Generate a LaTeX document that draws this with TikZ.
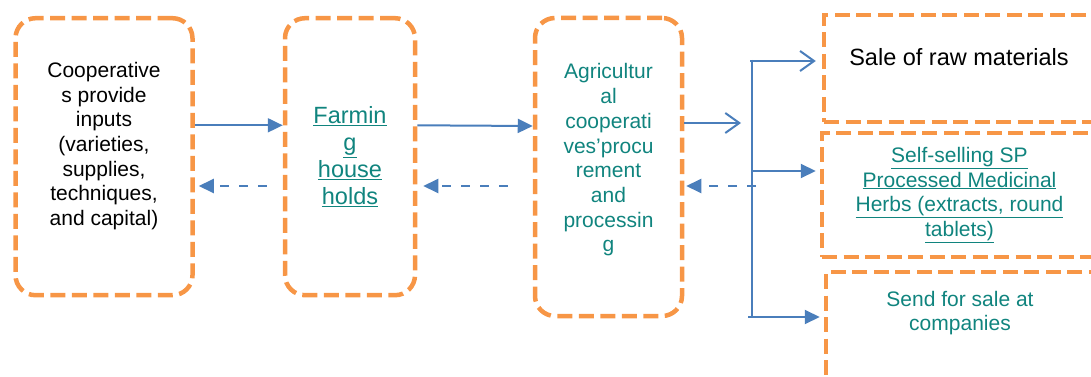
\documentclass[tikz,border=0pt]{standalone}
\usepackage{fontspec}
\setmainfont{Liberation Sans}
\usetikzlibrary{arrows.meta}
\definecolor{boxorange}{HTML}{F79646}
\definecolor{lineblue}{HTML}{4A7EBB}
\definecolor{linkteal}{RGB}{16,132,126}
\tikzset{
  flowbox/.style={draw=boxorange, line width=4.5pt, dash pattern=on 15pt off 6.5pt, rounded corners=20pt, align=center, inner sep=0pt},
  salebox/.style={draw=boxorange, line width=4.5pt, dash pattern=on 15pt off 6.5pt, align=center, inner sep=0pt},
  fwd/.style={draw=lineblue, line width=2pt, -{Triangle[length=15pt,width=14pt]}},
  fwdopen/.style={draw=lineblue, line width=2pt, -{Straight Barb[length=14pt,width=20pt,line width=2pt]}},
  back/.style={draw=lineblue, line width=2pt, dash pattern=on 9pt off 10pt, -{Triangle[length=15pt,width=14pt]}},
  bus/.style={draw=lineblue, line width=2pt},
  txtA/.style={font=\fontsize{21}{24.7}\selectfont, align=center},
  txtB/.style={font=\fontsize{23.5}{26.8}\selectfont, align=center},
}
\begin{document}
\begin{tikzpicture}[x=1pt,y=-1pt]
\useasboundingbox (0,0) rectangle (1091,377);
\begin{scope}
\clip (0,0) rectangle (1091,377);
% main boxes
\node[flowbox, minimum width=177pt, minimum height=277pt] (b1) at (104,156.7) {};
\node[txtA, text=black] (t1) at (104,146) {Cooperative\\s provide\\inputs\\(varieties,\\supplies,\\techniques,\\and capital)};
\node[flowbox, minimum width=130pt, minimum height=277pt, txtB, text=linkteal] (b2) at (350,156.7)
  {\underline{Farmin}\\\underline{g}\\\underline{house}\\\underline{holds}};
\node[flowbox, minimum width=147pt, minimum height=298pt] (b3) at (608.5,167) {};
\node[txtA, text=linkteal] (t3) at (608.5,160) {Agricultur\\al\\cooperati\\ves’procu\\rement\\and\\processin\\g};
% sale boxes
\node[salebox, minimum width=271pt, minimum height=107pt] (b4) at (959.5,68.5) {};
\node[txtB, text=black] (t4) at (959,57) {Sale of raw materials};
\node[salebox, minimum width=275pt, minimum height=124pt, txtA, text=linkteal] (b5) at (959.5,195)
  {\underline{Self-selling SP}\\\underline{Processed Medicinal}\\\underline{Herbs (extracts, round}\\\underline{tablets)}};
\node[salebox, minimum width=268pt, minimum height=150pt] (b6) at (960,347) {};
\node[txtA, text=linkteal] (t6) at (960,313) {Send for sale at\\companies};
\end{scope}
% bus coordinates
\coordinate (a3tip) at (741,123);
\coordinate (bt) at (752,61);
\coordinate (bm) at (752,171);
\coordinate (bb) at (752,317);
\coordinate (bd) at (756,186);
% connectors
\draw[fwd] ([yshift=31.4pt]b1.east) -- ([yshift=31.4pt]b2.west);
\draw[back] ([xshift=-16pt,yshift=-29.3pt]b2.west) -- ([xshift=4pt,yshift=-29.3pt]b1.east);
\draw[fwd] ([yshift=31.4pt]b2.east) -- ([yshift=41pt]b3.west);
\draw[back] ([xshift=-25pt,yshift=-19pt]b3.west) -- ([xshift=6pt,yshift=-29.3pt]b2.east);
\draw[fwdopen] ([yshift=44pt]b3.east) -- (a3tip);
\draw[bus] ([yshift=1pt]bt) -- ([yshift=-1pt]bb);
\draw[fwdopen] ([xshift=-2pt]bt) -- ([xshift=-6pt]b4.west |- bt);
\draw[fwd] (bm) -- ([xshift=-4pt]b5.west |- bm);
\draw[fwd] ([xshift=-4pt]bb) -- ([xshift=-4pt]b6.west |- bb);
\draw[back] (bd) -- ([xshift=2pt]b3.east |- bd);
\end{tikzpicture}
\end{document}
